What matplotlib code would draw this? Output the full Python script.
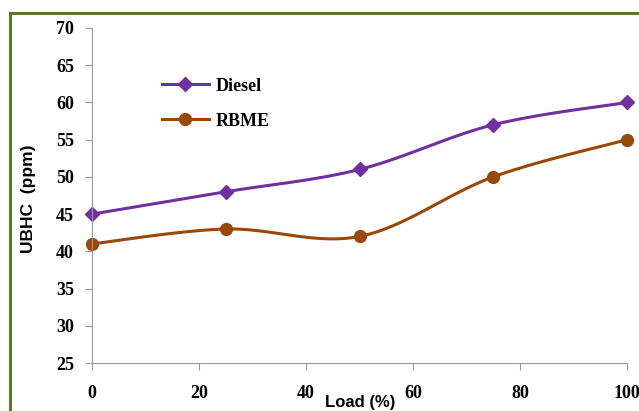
import numpy as np
import matplotlib.pyplot as plt
from matplotlib.patches import Rectangle

# data
load = [0, 25, 50, 75, 100]
diesel = [45, 48, 51, 57, 60]
rbme = [41, 43, 42, 50, 55]
yticks = [25, 30, 35, 40, 45, 50, 55, 60, 65, 70]
xticks = [0, 20, 40, 60, 80, 100]


# excel style smoothed line (bezier through points)
def smooth(x, y, n=30):
    p = np.column_stack([x, y]).astype(float)
    p = np.vstack([p[0], p, p[-1]])
    out = []
    for i in range(1, len(p) - 2):
        p0, p3 = p[i], p[i + 1]
        c1 = p0 + (p[i + 1] - p[i - 1]) / 6
        c2 = p3 - (p[i + 2] - p[i]) / 6
        t = np.linspace(0, 1, n)[:, None]
        seg = (1 - t) ** 3 * p0 + 3 * (1 - t) ** 2 * t * c1 + 3 * (1 - t) * t ** 2 * c2 + t ** 3 * p3
        out.append(seg)
    out = np.vstack(out)
    return out[:, 0], out[:, 1]


serif = 'Liberation Serif'
fig = plt.figure(figsize=(6.39, 4.11), dpi=100)
ax = fig.add_axes([92 / 639, 1 - 363 / 411, (627 - 92) / 639, (363 - 28) / 411])

# chart area border (cut off at right/bottom like the source)
fig.patches.append(Rectangle((10 / 639, -0.1), 1.2, 1 - 13 / 411 + 0.1, transform=fig.transFigure,
                             fill=False, edgecolor='#5b7333', linewidth=2.2, zorder=0))

for vals, col, mk, lab, ms in [(diesel, '#7030A0', 'D', 'Diesel', 7.5),
                               (rbme, '#984807', 'o', 'RBME', 8.5)]:
    sx, sy = smooth(load, vals)
    ax.plot(sx, sy, color=col, linewidth=2.2, clip_on=False)
    ax.plot(load, vals, linestyle='none', marker=mk, color=col, markersize=ms, clip_on=False)
    ax.plot([], [], color=col, marker=mk, markersize=ms, linewidth=2.2, label=lab)

ax.set_xlim(0, 100)
ax.set_ylim(25, 70)
ax.set_xticks(xticks)
ax.set_yticks(yticks)
for s in ['top', 'right']:
    ax.spines[s].set_visible(False)
for s in ['left', 'bottom']:
    ax.spines[s].set_color('#999999')
ax.tick_params(colors='#999999', length=5, labelcolor='black')
ax.tick_params(axis='y', pad=8)
ax.tick_params(axis='x', pad=11)
for t in ax.get_xticklabels() + ax.get_yticklabels():
    t.set_fontfamily(serif)
    t.set_fontweight('bold')
    t.set_fontsize(13)

fig.text(29 / 639, 1 - 199 / 411, 'UBHC  (ppm)', rotation=90, ha='center', va='center',
         fontsize=12.5, fontweight='bold', family='Liberation Sans')
fig.text(360 / 639, 1 / 411, 'Load (%)', ha='center', va='bottom',
         fontsize=12, fontweight='bold', family='Liberation Sans')

leg = ax.legend(loc='upper left', bbox_to_anchor=(0.1, 0.9), frameon=False,
                prop={'family': serif, 'weight': 'bold', 'size': 13},
                handlelength=2.6, labelspacing=1.0, handletextpad=0.4)

fig.savefig('out.png', dpi=100)
